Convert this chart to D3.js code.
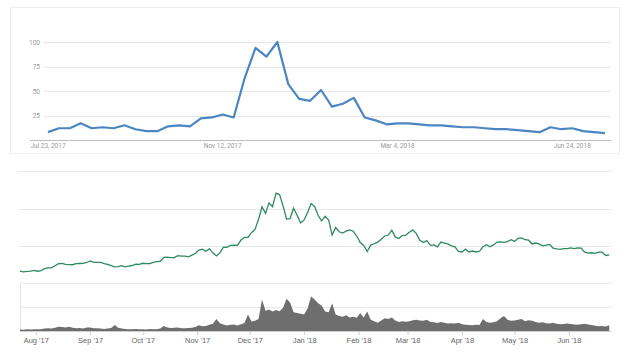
<!DOCTYPE html>
<html lang="en">
<head>
    <meta charset="UTF-8">
    <title>Search interest vs price</title>
    <script src="https://d3js.org/d3.v7.min.js"></script>
    <style>
        body { margin: 0; background: #fff; }
        svg { display: block; }
        .trend-label { font-family: Roboto, "Liberation Sans", sans-serif; font-size: 6.5px; fill: #9a9a9a; }
        .month-label { font-family: "Liberation Sans", Arial, sans-serif; font-size: 7.5px; fill: #666; }
    </style>
</head>
<body>
    <svg width="627" height="362"></svg>
    <script>
        // Weekly search interest (Jul 23, 2017 -> Jul 15, 2018)
        const trendStart = new Date(2017, 6, 23);
        const trendValues = [8, 12, 12, 17, 12, 13, 12, 15, 11, 9,
            9, 14, 15, 14, 22, 23, 26, 23, 63, 94,
            85, 100, 57, 42, 40, 51, 34, 37, 43, 23,
            20, 16, 17, 17, 16, 15, 15, 14, 13, 13,
            12, 11, 11, 10, 9, 8, 13, 11, 12, 9, 8, 7];
        const trendYTicks = [25, 50, 75, 100];
        const trendXTicks = ["Jul 23, 2017", "Nov 12, 2017", "Mar 4, 2018", "Jun 24, 2018"];

        // Price (USD) every 2 days from Jul 23, 2017
        const priceStart = new Date(2017, 6, 23);
        const priceValues = [
            2750, 2580, 2680, 2720, 2870,
            2710, 2860, 3250, 3440, 3420, 3880, 4330, 4380, 4160, 4100, 4090, 4330, 4350, 4380, 4570,
            4900, 4580, 4600, 4600, 4330, 4160, 3880, 3640, 3700, 3900, 3630, 3790, 3930, 4200, 4170,
            4400, 4310, 4320, 4610, 4770, 4830, 5640, 5700, 5600, 5600, 6010, 5930, 5900, 5780, 6150, 6470,
            7200, 7400, 6960, 7460, 6620, 5950, 6600, 7800, 7780, 8200, 8230, 8200, 9330, 9900, 9900,
            10900, 11600, 13700, 16400, 15000, 17200, 16400, 19300, 19000, 16600, 13800, 13900, 16100, 14600, 12950,
            13600, 15200, 17100, 16500, 14600, 13400, 14400, 13600, 10400, 12000, 11100, 10800, 11250, 11500, 11200, 10200,
            8800, 8200, 6900, 8260, 8550, 8900, 9500, 10200, 10400, 11400, 10000, 9660, 10300, 10400,
            11000, 11500, 10700, 9300, 8800, 9200, 8200, 8300, 7900, 8900, 8700, 8500, 8100, 7900, 6900,
            6800, 7400, 6800, 7000, 6800, 6950, 7900, 8350, 7900, 8300, 8900, 8950, 8850, 9000, 9400,
            9050, 9700, 9800, 9400, 9300, 8500, 8700, 8500, 8100, 8250, 8400, 7600, 7450, 7350, 7500, 7500,
            7650, 7500, 7650, 7630, 6770, 6550, 6640, 6500, 6750, 6750, 6050, 6180
        ];
        // Volume (billion USD), same dates
        const volumeValues = [
            1.0, 0.9, 1.1, 1.0, 1.2,
            1.1, 1.2, 1.6, 1.8, 1.6, 2.2, 2.9, 2.7, 2.4, 2.9, 2.2, 1.9, 2.0, 1.7, 2.3,
            2.4, 1.8, 1.9, 1.7, 1.4, 1.6, 2.0, 4.0, 2.1, 1.6, 1.4, 1.2, 1.1, 1.3, 1.2,
            1.1, 1.0, 1.3, 1.1, 1.2, 1.7, 3.3, 2.4, 2.0, 2.1, 2.4, 1.9, 1.8, 2.0, 2.1, 2.6,
            3.8, 3.2, 3.4, 4.1, 4.9, 8.0, 5.2, 4.3, 3.7, 4.2, 4.4, 3.6, 4.5, 5.4, 11.0,
            6.3, 6.8, 8.0, 21.0, 13.5, 14.4, 13.0, 14.0, 13.2, 15.5, 21.5, 19.0, 12.5, 12.0, 11.5,
            11.0, 15.0, 23.0, 21.0, 18.5, 17.0, 13.0, 12.5, 18.5, 11.0, 10.0, 9.5, 10.5, 9.0, 9.5, 8.8,
            12.0, 9.0, 13.0, 7.5, 6.5, 5.5, 7.0, 8.5, 8.0, 9.0, 7.0, 6.0, 6.5, 6.2,
            6.5, 7.2, 7.5, 7.0, 6.8, 7.5, 6.0, 5.8, 5.3, 6.0, 5.5, 5.0, 5.2, 5.0, 5.5,
            4.5, 4.2, 4.0, 3.8, 4.2, 4.0, 8.0, 6.0, 5.5, 5.8, 6.5, 8.5, 10.0, 7.5, 6.8,
            7.0, 7.5, 8.0, 6.5, 7.2, 6.8, 6.0, 5.5, 5.8, 5.2, 5.0, 5.5, 4.8, 4.5, 4.6, 5.0,
            4.6, 4.4, 4.2, 4.5, 4.8, 4.3, 4.0, 3.5, 3.2, 3.4, 3.0, 3.8
        ];
        const priceGrid = [8000, 16000, 24000];
        const volumeGrid = [16, 32];
        const monthLabels = ["Aug '17", "Sep '17", "Oct '17", "Nov '17", "Dec '17", "Jan '18",
            "Feb '18", "Mar '18", "Apr '18", "May '18", "Jun '18"];
        const monthDates = d3.range(11).map(i => new Date(2017, 7 + i, 1));

        const svg = d3.select("svg");

        // ---------- Top chart: search interest ----------
        svg.append("rect")
            .attr("x", 10.5).attr("y", 7.5)
            .attr("width", 609).attr("height", 146)
            .attr("fill", "none")
            .attr("stroke", "#efefef");

        const trendData = trendValues.map((v, i) => ({ date: d3.timeWeek.offset(trendStart, i), value: v }));

        const xTrend = d3.scaleTime()
            .domain([trendStart, d3.timeWeek.offset(trendStart, trendValues.length - 1)])
            .range([48, 605]);
        const yTrend = d3.scaleLinear().domain([0, 100]).range([140, 42]);

        svg.append("g")
            .selectAll("line")
            .data(trendYTicks)
            .join("line")
            .attr("x1", 44).attr("x2", 611)
            .attr("y1", d => Math.round(yTrend(d)) + 0.5)
            .attr("y2", d => Math.round(yTrend(d)) + 0.5)
            .attr("stroke", "#e6e6e6");

        svg.append("line")
            .attr("x1", 30).attr("x2", 611)
            .attr("y1", 140.5).attr("y2", 140.5)
            .attr("stroke", "#bdbdbd");

        svg.append("g")
            .selectAll("text")
            .data(trendYTicks)
            .join("text")
            .attr("class", "trend-label")
            .attr("x", 40)
            .attr("y", d => yTrend(d) + 2.5)
            .attr("text-anchor", "end")
            .text(d => d);

        svg.append("g")
            .selectAll("text")
            .data(trendXTicks)
            .join("text")
            .attr("class", "trend-label")
            .attr("x", (d, i) => xTrend(d3.timeWeek.offset(trendStart, i * 16)))
            .attr("y", 148)
            .attr("text-anchor", "middle")
            .text(d => d);

        svg.append("path")
            .datum(trendData)
            .attr("fill", "none")
            .attr("stroke", "#4a86c2")
            .attr("stroke-width", 2.2)
            .attr("stroke-linejoin", "round")
            .attr("d", d3.line().x(d => xTrend(d.date)).y(d => yTrend(d.value)));

        // ---------- Bottom chart: price and volume ----------
        const priceData = priceValues.map((v, i) => ({
            date: d3.timeDay.offset(priceStart, i * 2),
            price: v,
            volume: volumeValues[i]
        }));

        const xPrice = d3.scaleTime()
            .domain([priceStart, d3.timeDay.offset(priceStart, 337)])
            .range([20, 611]);
        const yPrice = d3.scaleLinear().domain([0, 24000]).range([284, 171]);
        const yVolume = d3.scaleLinear().domain([0, 32]).range([331, 283]);

        svg.append("g")
            .selectAll("line")
            .data(priceGrid)
            .join("line")
            .attr("x1", 18).attr("x2", 612)
            .attr("y1", d => Math.round(yPrice(d)) + 0.5)
            .attr("y2", d => Math.round(yPrice(d)) + 0.5)
            .attr("stroke", "#e8e8e8");

        svg.append("g")
            .selectAll("line")
            .data(volumeGrid)
            .join("line")
            .attr("x1", 21).attr("x2", 612)
            .attr("y1", d => Math.round(yVolume(d)) + 0.5)
            .attr("y2", d => Math.round(yVolume(d)) + 0.5)
            .attr("stroke", "#e8e8e8");

        svg.append("line")
            .attr("x1", 20.5).attr("x2", 20.5)
            .attr("y1", 283).attr("y2", 331)
            .attr("stroke", "#e4e4e4");

        svg.append("path")
            .datum(priceData)
            .attr("fill", "#6e6e6e")
            .attr("d", d3.area()
                .x(d => xPrice(d.date))
                .y0(yVolume(0))
                .y1(d => yVolume(d.volume)));

        svg.append("path")
            .datum(priceData)
            .attr("fill", "none")
            .attr("stroke", "#2f8a5e")
            .attr("stroke-width", 1.3)
            .attr("d", d3.line().x(d => xPrice(d.date)).y(d => yPrice(d.price)));

        // Month axis under the volume
        const xAxis = svg.append("g")
            .attr("transform", `translate(0,${yVolume(0)})`)
            .call(d3.axisBottom(xPrice)
                .tickValues(monthDates)
                .tickSize(4)
                .tickFormat((d, i) => monthLabels[i]));
        xAxis.select(".domain").attr("stroke", "#cfcfcf").attr("d", "M20,0.5H612");
        xAxis.selectAll(".tick line").attr("stroke", "#cfcfcf");
        xAxis.selectAll(".tick text")
            .attr("class", "month-label")
            .attr("y", 7);
    </script>
</body>
</html>
